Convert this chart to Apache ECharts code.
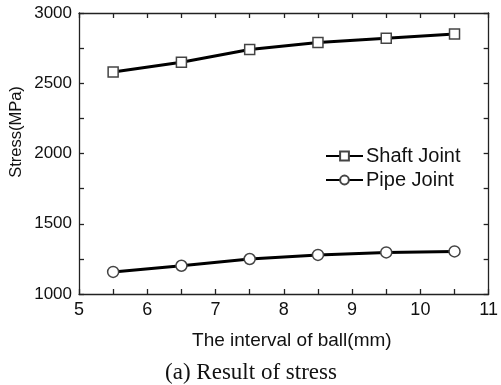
<!DOCTYPE html>
<html><head><meta charset="utf-8">
<script src="https://cdn.jsdelivr.net/npm/echarts@6/dist/echarts.min.js"></script>
<style>html,body{margin:0;padding:0;background:#fff}#c{width:501px;height:385px}</style>
</head><body><div id="c"></div>
<script>
var intervals = [5.5, 6.5, 7.5, 8.5, 9.5, 10.5];
var shaftJoint = [2580, 2650, 2740, 2790, 2820, 2850];
var pipeJoint = [1157, 1201, 1249, 1278, 1296, 1303];
var seriesNames = ['Shaft Joint', 'Pipe Joint'];
var xTitle = 'The interval of ball(mm)';
var yTitle = 'Stress(MPa)';
var caption = '(a) Result of stress';

var chart = echarts.init(document.getElementById('c'), null, {renderer: 'canvas'});
var font = 'Liberation Sans, Arial, sans-serif';
var axisLine = {show: true, lineStyle: {color: '#222', width: 1.3}};
var tick = {show: true, inside: true, length: 5, lineStyle: {color: '#222', width: 1.3}};
function pairs(ys){ return intervals.map(function(x,i){return [x, ys[i]];}); }
function xLab(v){ return Math.abs(v - Math.round(v)) < 1e-6 ? String(Math.round(v)) : ''; }
function yLab(v){ return (v % 500 === 0) ? String(v) : ''; }
chart.setOption({
  animation: false,
  grid: {left: 79, right: 9, top: 13, bottom: 91},
  graphic: [{
    type: 'text', x: 16, y: 132, rotation: Math.PI / 2,
    style: {text: yTitle, font: '16.5px Liberation Sans, Arial, sans-serif', fill: '#111', align: 'center', verticalAlign: 'middle'}
  }, {
    type: 'text', x: 251, y: 373,
    style: {text: caption, font: '23px Liberation Serif, Times New Roman, serif', fill: '#111', align: 'center', verticalAlign: 'middle'}
  }],
  legend: {
    left: 320, top: 141, orient: 'vertical', itemGap: 4, itemWidth: 37, itemHeight: 11,
    textStyle: {fontFamily: font, fontSize: 20, color: '#111', padding: [0,0,0,-2]},
    data: seriesNames
  },
  xAxis: [{
    type: 'value', min: 5, max: 11, interval: 0.5,
    name: xTitle, nameLocation: 'middle', nameGap: 37,
    nameTextStyle: {fontFamily: font, fontSize: 19, color: '#111', padding: [0,0,0,16]},
    axisLine: axisLine, axisTick: tick, splitLine: {show: false},
    axisLabel: {fontFamily: font, fontSize: 18, color: '#111', margin: 7, formatter: xLab, showMinLabel: true, showMaxLabel: true}
  }, {
    type: 'value', position: 'top', min: 5, max: 11, interval: 0.5,
    axisLine: axisLine, axisTick: tick, splitLine: {show: false},
    axisLabel: {show: false}
  }],
  yAxis: [{
    type: 'value', min: 1000, max: 3000, interval: 250,
    axisLine: axisLine, axisTick: tick, splitLine: {show: false},
    axisLabel: {fontFamily: font, fontSize: 17, color: '#111', margin: 7, formatter: yLab}
  }, {
    type: 'value', position: 'right', min: 1000, max: 3000, interval: 250,
    axisLine: axisLine, axisTick: tick, splitLine: {show: false},
    axisLabel: {show: false}
  }],
  series: [{
    name: seriesNames[0], type: 'line', data: pairs(shaftJoint),
    symbol: 'rect', symbolSize: 10,
    lineStyle: {color: '#000', width: 3},
    itemStyle: {color: '#fff', borderColor: '#444', borderWidth: 1.5}
  }, {
    name: seriesNames[1], type: 'line', data: pairs(pipeJoint),
    symbol: 'circle', symbolSize: 11,
    lineStyle: {color: '#000', width: 3},
    itemStyle: {color: '#fff', borderColor: '#444', borderWidth: 1.5}
  }]
});
</script></body></html>
